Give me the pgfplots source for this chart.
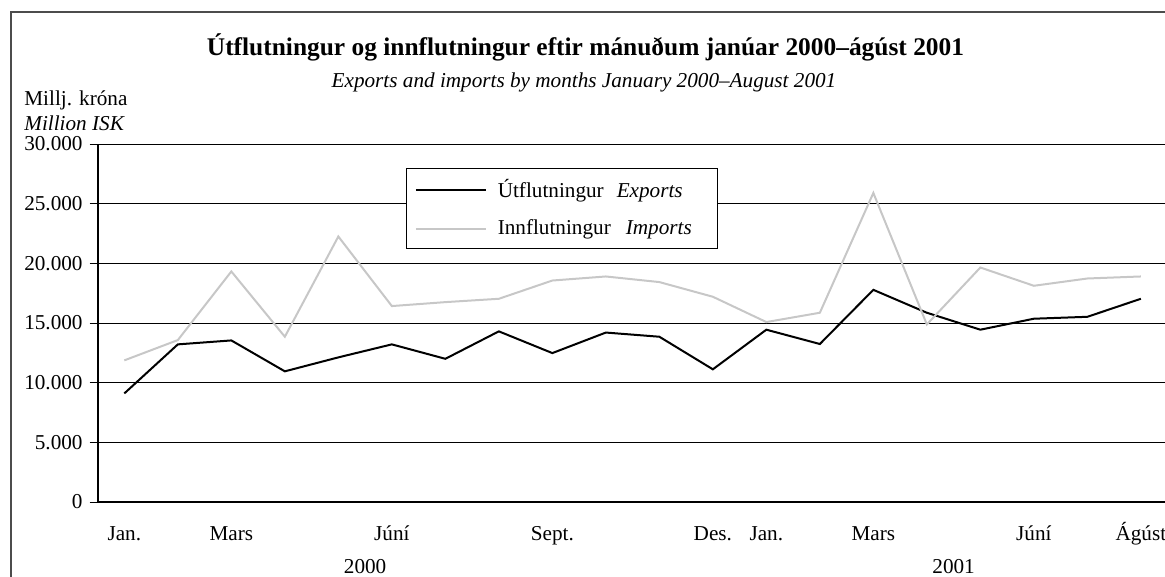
\documentclass[border=0pt]{standalone}
\usepackage{fontspec}
\setmainfont{Liberation Serif}
\usepackage{pgfplots}
\usepackage{pgfplotstable}
\pgfplotsset{compat=1.18}
\pgfplotstableread{
i exp imp
0 9100 11870
1 13210 13570
2 13540 19320
3 10950 13850
4 12120 22250
5 13210 16420
6 12000 16750
7 14300 17030
8 12480 18560
9 14200 18900
10 13850 18430
11 11120 17200
12 14440 15080
13 13240 15860
14 17780 25900
15 15860 14880
16 14440 19650
17 15360 18120
18 15520 18730
19 17030 18900
}\datatable
\newcommand\fs{\fontsize{10.6bp}{12.7bp}\selectfont}
\begin{document}
\begin{tikzpicture}
\useasboundingbox (0,0) rectangle (582.5bp,-288.5bp);
\draw[line width=0.6bp, black!70] (5.5bp,-6bp) rectangle (600bp,-320bp);
\node[font=\fontsize{12.7bp}{15bp}\selectfont\bfseries] at (292.75bp,-23.5bp) {Útflutningur og innflutningur eftir mánuðum janúar 2000–ágúst 2001};
\node[font=\fs\itshape] at (292bp,-41bp) {Exports and imports by months January 2000–August 2001};
\node[font=\fs, anchor=west, inner sep=0pt] at (12bp,-50bp) {Millj. króna};
\node[font=\fs\itshape, anchor=west, inner sep=0pt] at (12bp,-61.5bp) {Million ISK};
\begin{axis}[
  at={(48.8bp,-251bp)}, anchor=south west,
  scale only axis, width=535bp, height=179bp,
  xmin=-0.5, xmax=19.5, ymin=0, ymax=30000,
  axis x line*=bottom, axis y line*=left,
  axis line style={line width=0.9bp},
  xtick={0,...,19},
  xticklabels={Jan.,,Mars,,,Júní,,,Sept.,,,Des.,Jan.,,Mars,,,Júní,,Ágúst},
  minor xtick={-0.5,0.5,...,19.5},
  xtick style={draw=none},
  minor tick length=3bp,
  major tick length=4bp,
  tick align=outside,
  tick style={black, line width=0.5bp},
  ytick={0,5000,...,30000},
  ymajorgrids, grid style={black, line width=0.5bp},
  scaled y ticks=false,
  /pgf/number format/.cd, 1000 sep={.}, assume math mode=true,
  /pgfplots/.cd,
  ticklabel style={font=\fs},
  xticklabel style={text height=8bp, text depth=2bp, yshift=-3.5bp},
  clip=false,
  legend cell align=left,
  legend style={at={(rel axis cs:0.2885,0.933)}, anchor=north west, draw=black, line width=0.5bp,
    font=\fs, row sep=5.5bp, inner xsep=4bp, inner ysep=3.5bp},
  legend image code/.code={\draw[#1] (0bp,0bp) -- (35bp,0bp);},
]
\addplot[black, line width=1bp] table[x=i,y=exp] {\datatable};
\addlegendentry{\hspace{3.5bp}Útflutningur\hspace{6.5bp}\textit{Exports}}
\addplot[black!22, line width=1bp] table[x=i,y=imp] {\datatable};
\addlegendentry{\hspace{3.5bp}Innflutningur\hspace{7.5bp}\textit{Imports}\rule{7bp}{0pt}}
\node[font=\fs] at (axis cs:4.5,0) [yshift=-32.5bp] {2000};
\node[font=\fs] at (axis cs:15.5,0) [yshift=-32.5bp] {2001};
\end{axis}
\end{tikzpicture}
\end{document}
